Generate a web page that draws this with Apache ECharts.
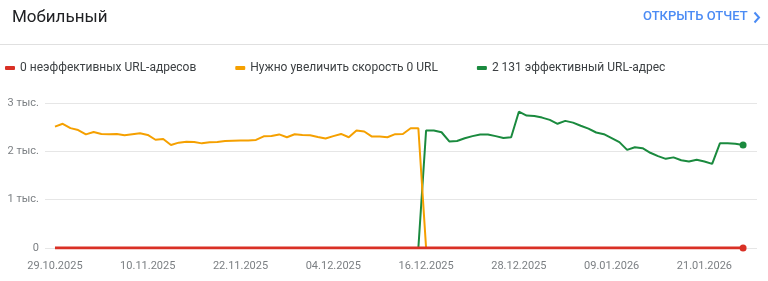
<!DOCTYPE html>
<html><head><meta charset="utf-8">
<script src="https://cdn.jsdelivr.net/npm/echarts@6/dist/echarts.min.js"></script>
<style>html,body{margin:0;padding:0;background:#fff}#c{width:768px;height:281px}</style>
</head><body><div id="c"></div>
<script>
const dates = [
'29.10.2025','30.10.2025','31.10.2025',
'01.11.2025','02.11.2025','03.11.2025','04.11.2025','05.11.2025','06.11.2025','07.11.2025','08.11.2025','09.11.2025','10.11.2025',
'11.11.2025','12.11.2025','13.11.2025','14.11.2025','15.11.2025','16.11.2025','17.11.2025','18.11.2025','19.11.2025','20.11.2025',
'21.11.2025','22.11.2025','23.11.2025','24.11.2025','25.11.2025','26.11.2025','27.11.2025','28.11.2025','29.11.2025','30.11.2025',
'01.12.2025','02.12.2025','03.12.2025','04.12.2025','05.12.2025','06.12.2025','07.12.2025','08.12.2025','09.12.2025','10.12.2025',
'11.12.2025','12.12.2025','13.12.2025','14.12.2025','15.12.2025','16.12.2025','17.12.2025','18.12.2025','19.12.2025','20.12.2025',
'21.12.2025','22.12.2025','23.12.2025','24.12.2025','25.12.2025','26.12.2025','27.12.2025','28.12.2025','29.12.2025','30.12.2025','31.12.2025',
'01.01.2026','02.01.2026','03.01.2026','04.01.2026','05.01.2026','06.01.2026','07.01.2026','08.01.2026','09.01.2026','10.01.2026',
'11.01.2026','12.01.2026','13.01.2026','14.01.2026','15.01.2026','16.01.2026','17.01.2026','18.01.2026','19.01.2026','20.01.2026',
'21.01.2026','22.01.2026','23.01.2026','24.01.2026','25.01.2026','26.01.2026'
];
const tickLabels = ['29.10.2025','10.11.2025','22.11.2025','04.12.2025','16.12.2025','28.12.2025','09.01.2026','21.01.2026'];
const seriesNames = ['0 неэффективных URL-адресов','Нужно увеличить скорость 0 URL','2 131 эффективный URL-адрес'];
const poor = [
0,0,0,0,0,0,0,0,0,0, 0,0,0,0,0,0,0,0,0,0, 0,0,0,0,0,0,0,0,0,0,
0,0,0,0,0,0,0,0,0,0, 0,0,0,0,0,0,0,0,0,0, 0,0,0,0,0,0,0,0,0,0,
0,0,0,0,0,0,0,0,0,0, 0,0,0,0,0,0,0,0,0,0, 0,0,0,0,0,0,0,0,0,0
];
const needsImprovement = [
2510,2570,2480,2440,2350,2400,2360,2355,2360,2335,
2355,2375,2340,2240,2255,2130,2180,2200,2195,2165,
2190,2195,2215,2220,2225,2225,2236,2310,2319,2350,
2292,2354,2340,2333,2298,2264,2315,2360,2292,2430,
2410,2305,2305,2292,2355,2360,2478,2478,0,0,
0,0,0,0,0,0,0,0,0,0, 0,0,0,0,0,0,0,0,0,0,
0,0,0,0,0,0,0,0,0,0, 0,0,0,0,0,0,0,0,0,0
];
const good = [
0,0,0,0,0,0,0,0,0,0, 0,0,0,0,0,0,0,0,0,0,
0,0,0,0,0,0,0,0,0,0, 0,0,0,0,0,0,0,0,0,0,
0,0,0,0,0,0,0,0,2430,2430,
2395,2205,2215,2270,2315,2350,2350,2315,2275,2290,
2820,2740,2733,2698,2650,2570,2630,2594,2530,2470,
2390,2355,2275,2190,2030,2085,2065,1970,1900,1845,
1875,1815,1790,1825,1790,1740,2165,2165,2155,2131
];
const yTicks = [0,1000,2000,3000];
const yTickLabels = ['0','1 тыс.','2 тыс.','3 тыс.'];

const colors = {poor:'#d93025', ni:'#f5a000', good:'#1a8a3e'};
function pts(arr, endDot){
  return arr.map((v,i)=>{
    if(endDot && i===arr.length-1) return {value:[i,v], symbol:'circle', symbolSize:7};
    return [i,v];
  });
}
const tickIdx = tickLabels.map(t=>dates.indexOf(t));
const chart = echarts.init(document.getElementById('c'), null, {renderer:'canvas'});
const FONT = 'Roboto, "Noto Sans", sans-serif';
chart.setOption({
  animation:false,
  textStyle:{fontFamily:FONT},
  title:{text:'Мобильный', left:7, top:4, textStyle:{fontSize:17, fontWeight:'normal', color:'#202124', fontFamily:FONT}},
  graphic:[
    {type:'line', shape:{x1:0,y1:44.5,x2:768,y2:44.5}, style:{stroke:'#e0e0e0', lineWidth:1}},
    {type:'text', left:643, top:10, style:{text:'ОТКРЫТЬ ОТЧЕТ', fill:'#4b8bf4', font:'500 13px Roboto, sans-serif'}},
    {type:'polyline', shape:{points:[[754.5,12.5],[759,17.5],[754.5,22.5]]}, style:{stroke:'#4b8bf4', lineWidth:2, fill:null}}
  ],
  legend:{
    left:0, top:57, icon:'roundRect', itemWidth:10, itemHeight:4, itemGap:39,
    data:seriesNames,
    textStyle:{fontSize:12, color:'#3c4043'},
    selectedMode:false
  },
  grid:{left:45, right:11, top:103, bottom:33, containLabel:false},
  xAxis:{
    type:'value', min:-1.29, max:90.8,
    axisLine:{show:false}, axisTick:{show:false}, splitLine:{show:false},
    axisLabel:{customValues:tickIdx, formatter:v=>dates[Math.round(v)], color:'#7b7f83', fontSize:11, margin:13}
  },
  yAxis:{
    type:'value', min:0, max:3000, interval:1000,
    axisLine:{show:false}, axisTick:{show:false},
    splitLine:{lineStyle:{color:'#e6e6e6'}},
    axisLabel:{formatter:v=>yTickLabels[yTicks.indexOf(v)], color:'#7b7f83', fontSize:11, margin:6}
  },
  series:[
    {name:seriesNames[2], type:'line', data:pts(good,true), symbol:'none', showSymbol:true, color:colors.good, lineStyle:{width:2}, z:2},
    {name:seriesNames[1], type:'line', data:pts(needsImprovement,false), symbol:'none', color:colors.ni, lineStyle:{width:2}, z:3},
    {name:seriesNames[0], type:'line', data:pts(poor,true), symbol:'none', showSymbol:true, color:colors.poor, lineStyle:{width:3}, z:4}
  ]
});
</script></body></html>
